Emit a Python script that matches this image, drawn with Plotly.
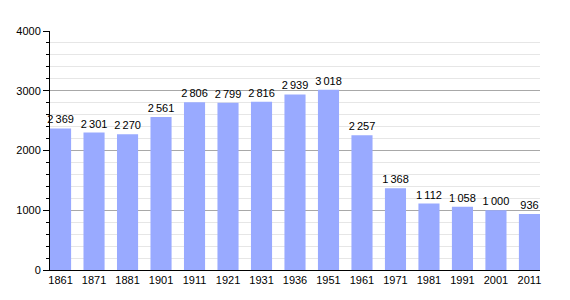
import plotly.graph_objects as go

years = ["1861", "1871", "1881", "1901", "1911", "1921", "1931", "1936",
         "1951", "1961", "1971", "1981", "1991", "2001", "2011"]
population = [2369, 2301, 2270, 2561, 2806, 2799, 2816, 2939,
              3018, 2257, 1368, 1112, 1058, 1000, 936]
labels = [f"{v:,}".replace(",", "\u2009") for v in population]

BW = 0.63

fig = go.Figure(go.Bar(
    x=years, y=population, text=labels, textposition="outside",
    marker=dict(color="#99aaff", line=dict(width=0)),
    textfont=dict(family="Liberation Sans, Arial", size=11, color="black"),
    cliponaxis=False, width=BW, constraintext="none",
))

fig.update_layout(
    width=570, height=300,
    margin=dict(l=50, r=30, t=31, b=30),
    paper_bgcolor="white", plot_bgcolor="white",
    showlegend=False,
    font=dict(family="Liberation Sans, Arial", size=11, color="black"),
)
fig.update_xaxes(
    type="category", showline=True, linecolor="black", linewidth=1,
    ticks="", showgrid=False, tickfont=dict(size=11),
    range=[-BW / 2, len(years) - 1 + BW / 2],
)
fig.update_yaxes(
    range=[0, 4000], tickvals=[0, 1000, 2000, 3000, 4000],
    showline=True, linecolor="black", linewidth=1,
    ticks="outside", ticklen=6, tickcolor="black",
    showgrid=True, gridcolor="#a8a8a8", gridwidth=1,
    zeroline=False, tickfont=dict(size=11),
    minor=dict(dtick=200, showgrid=True, gridcolor="#e6e6e6",
               ticks="outside", ticklen=3, tickcolor="black"),
)

fig.write_html("out.html")
